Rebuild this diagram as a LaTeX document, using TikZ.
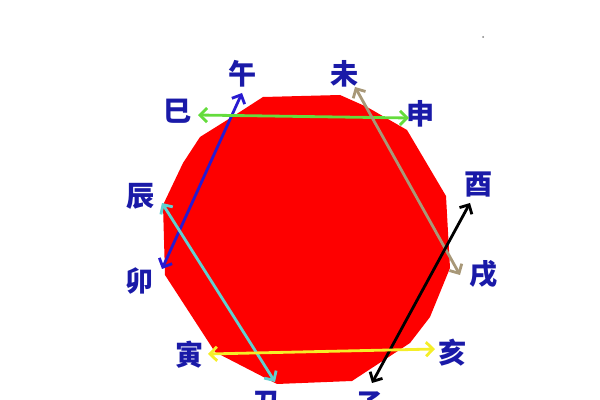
\documentclass[tikz,border=0pt]{standalone}
\usepackage{fontspec}
\newfontfamily\cjk{Noto Sans CJK SC}
\usetikzlibrary{arrows.meta}
\definecolor{zhiblue}{RGB}{26,26,168}
\definecolor{wublue}{RGB}{40,26,208}
\definecolor{sigreen}{RGB}{100,220,60}
\definecolor{weitan}{RGB}{168,152,120}
\definecolor{chencyan}{RGB}{96,208,208}
\definecolor{yinyellow}{RGB}{245,238,40}
\definecolor{panred}{RGB}{254,0,0}
\tikzset{
  branch/.style={font=\cjk\bfseries\fontsize{20}{20}\selectfont, text=zhiblue, inner sep=0pt},
  pair/.style={line width=2pt, >={Straight Barb[length=5pt,width=10pt]}, <->}
}
\begin{document}
\begin{tikzpicture}[x=0.025cm,y=-0.025cm]
\useasboundingbox (0,0) rectangle (600,400);

\fill[panred] (263,97) -- (340,95) -- (367,107) -- (407,130) -- (446,196) -- (450,268)
  -- (430,317) -- (410,343) -- (352,381) -- (277,384) -- (215,352) -- (165,275)
  -- (163,205) -- (183,163) -- (200,137) -- (232,117) -- cycle;
\fill[gray] (483,37) circle (1);

\node[branch] (wu)   at (243,74)  {午};
\node[branch] (wei)  at (345,74)  {未};
\node[branch] (si)   at (178,111) {巳};
\node[branch] (shen) at (421,114) {申};
\node[branch] (chen) at (141,196) {辰};
\node[branch] (you)  at (479,185) {酉};
\node[branch] (mao)  at (140,281) {卯};
\node[branch] (xu)   at (484,274) {戌};
\node[branch] (yin)  at (190,355) {寅};
\node[branch] (hai)  at (453,353) {亥};
\node[branch] (chou) at (267,404) {丑};
\node[branch] (zi)   at (370,404) {子};

% arrow tips next to the branches
\coordinate (wu-tip)   at (242,93);
\coordinate (mao-tip)  at (162,269);
\coordinate (si-tip)   at (198,115);
\coordinate (shen-tip) at (409,118);
\coordinate (wei-tip)  at (355,87);
\coordinate (xu-tip)   at (460,275);
\coordinate (chen-tip) at (162,203);
\coordinate (chou-tip) at (275,382);
\coordinate (you-tip)  at (470,203);
\coordinate (zi-tip)   at (372,383);
\coordinate (yin-tip)  at (208,354);
\coordinate (hai-tip)  at (435,349);

\draw[pair, wublue]    (wu-tip)   -- (mao-tip);
\draw[pair, sigreen]   (si-tip)   -- (shen-tip);
\draw[pair, weitan]    (wei-tip)  -- (xu-tip);
\draw[pair, chencyan]  (chen-tip) -- (chou-tip);
\draw[pair, black]     (you-tip)  -- (zi-tip);
\draw[pair, yinyellow] (yin-tip)  -- (hai-tip);

\end{tikzpicture}
\end{document}
